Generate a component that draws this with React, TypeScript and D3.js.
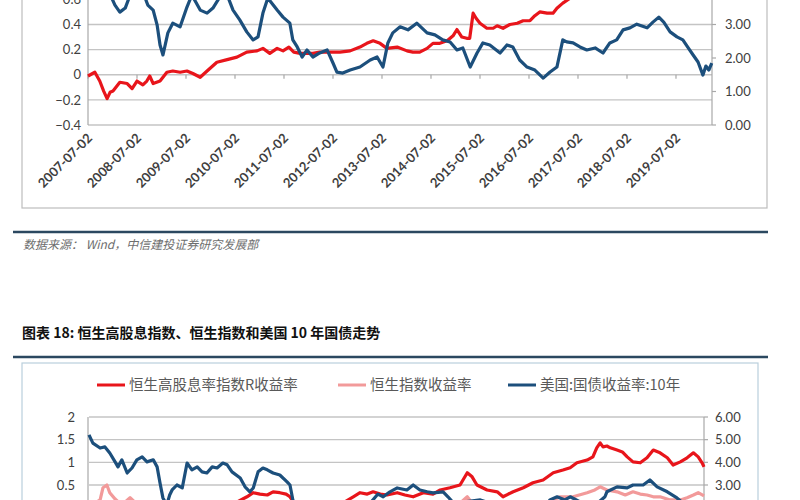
import * as d3 from "d3";

// ---- data (x = decimal year, y = value) ----
const DATE_LABELS = [
  "2007-07-02", "2008-07-02", "2009-07-02", "2010-07-02", "2011-07-02", "2012-07-02", "2013-07-02",
  "2014-07-02", "2015-07-02", "2016-07-02", "2017-07-02", "2018-07-02", "2019-07-02",
];
const TOP_LEFT_TICKS = [-0.4, -0.2, 0, 0.2, 0.4, 0.6, 0.8, 1.0, 1.2];
const TOP_RIGHT_TICKS = [0, 1, 2, 3, 4, 5, 6];
const BOT_LEFT_TICKS = [-1, -0.5, 0, 0.5, 1, 1.5, 2];
const BOT_RIGHT_TICKS = [0, 1, 2, 3, 4, 5, 6];

// top chart, red series (left axis)
const TOP_RED: [number, number][] = [
  [2007.5, -0.01], [2007.64, 0.02], [2007.74, -0.05], [2007.82, -0.13], [2007.89, -0.19], [2007.95, -0.14],
  [2008.01, -0.13], [2008.15, -0.06], [2008.3, -0.07], [2008.4, -0.11], [2008.5, -0.05], [2008.62, -0.08],
  [2008.7, -0.05], [2008.76, -0.01], [2008.83, -0.07], [2008.97, -0.05], [2009.11, 0.02], [2009.23, 0.03],
  [2009.38, 0.02], [2009.52, 0.03], [2009.64, 0.01], [2009.79, -0.02], [2009.93, 0.03], [2010.13, 0.1],
  [2010.34, 0.12], [2010.54, 0.14], [2010.74, 0.18], [2010.95, 0.19], [2011.07, 0.21], [2011.21, 0.17],
  [2011.36, 0.21], [2011.48, 0.19], [2011.6, 0.22], [2011.7, 0.18], [2011.83, 0.17], [2011.97, 0.17],
  [2012.09, 0.17], [2012.23, 0.18], [2012.44, 0.18], [2012.64, 0.18], [2012.85, 0.19], [2013.05, 0.22],
  [2013.19, 0.25], [2013.32, 0.27], [2013.46, 0.25], [2013.6, 0.21], [2013.81, 0.22], [2014.01, 0.19],
  [2014.13, 0.18], [2014.27, 0.18], [2014.42, 0.21], [2014.54, 0.25], [2014.68, 0.25], [2014.83, 0.27],
  [2014.95, 0.31], [2015.03, 0.36], [2015.13, 0.3], [2015.23, 0.29], [2015.29, 0.29], [2015.36, 0.49],
  [2015.42, 0.45], [2015.5, 0.41], [2015.64, 0.37], [2015.77, 0.37], [2015.85, 0.39], [2015.97, 0.37],
  [2016.11, 0.4], [2016.26, 0.41], [2016.38, 0.43], [2016.52, 0.43], [2016.62, 0.47], [2016.72, 0.5],
  [2016.87, 0.49], [2016.99, 0.49], [2017.07, 0.53], [2017.19, 0.57], [2017.34, 0.61], [2017.54, 0.68],
  [2017.75, 0.75], [2017.95, 0.8], [2018.15, 0.85], [2018.36, 0.9], [2018.56, 0.88], [2018.77, 0.8],
  [2018.97, 0.78], [2019.17, 0.85], [2019.38, 0.82], [2019.58, 0.86], [2019.79, 0.84], [2019.99, 0.8],
  [2020.23, 0.82],
];

// top chart, blue series (right axis)
const TOP_BLUE: [number, number][] = [
  [2007.5, 5.0], [2007.64, 4.7], [2007.74, 4.5], [2007.87, 4.1], [2007.95, 3.9], [2008.05, 3.58],
  [2008.15, 3.37], [2008.26, 3.49], [2008.36, 3.88], [2008.52, 4.1], [2008.66, 3.82], [2008.72, 3.58],
  [2008.83, 3.43], [2008.91, 2.99], [2008.97, 2.39], [2009.03, 2.09], [2009.13, 2.75], [2009.23, 3.04],
  [2009.38, 2.93], [2009.52, 3.52], [2009.62, 3.88], [2009.79, 3.43], [2009.93, 3.34], [2010.05, 3.49],
  [2010.19, 3.82], [2010.34, 3.88], [2010.46, 3.43], [2010.6, 3.13], [2010.74, 2.78], [2010.87, 2.54],
  [2010.97, 2.63], [2011.07, 3.34], [2011.17, 3.79], [2011.28, 3.58], [2011.36, 3.43], [2011.48, 3.22],
  [2011.62, 3.04], [2011.68, 2.54], [2011.77, 2.33], [2011.87, 2.03], [2011.97, 2.24], [2012.09, 2.03],
  [2012.23, 2.15], [2012.38, 2.24], [2012.5, 1.85], [2012.58, 1.58], [2012.7, 1.55], [2012.85, 1.64],
  [2013.05, 1.73], [2013.26, 1.94], [2013.4, 2.03], [2013.52, 1.73], [2013.62, 2.45], [2013.72, 2.75],
  [2013.87, 2.93], [2014.03, 2.84], [2014.21, 3.04], [2014.42, 2.75], [2014.58, 2.69], [2014.74, 2.54],
  [2014.89, 2.48], [2015.03, 2.24], [2015.15, 2.3], [2015.3, 1.73], [2015.44, 2.15], [2015.56, 2.45],
  [2015.7, 2.39], [2015.91, 2.15], [2016.05, 2.39], [2016.17, 2.33], [2016.31, 1.94], [2016.46, 1.73],
  [2016.62, 1.64], [2016.79, 1.4], [2016.93, 1.58], [2017.07, 1.73], [2017.19, 2.54], [2017.27, 2.48],
  [2017.4, 2.45], [2017.54, 2.33], [2017.68, 2.24], [2017.85, 2.3], [2018.01, 2.15], [2018.15, 2.45],
  [2018.29, 2.54], [2018.42, 2.84], [2018.56, 2.9], [2018.7, 3.01], [2018.91, 2.9], [2019.03, 3.07],
  [2019.15, 3.22], [2019.25, 3.07], [2019.38, 2.78], [2019.52, 2.63], [2019.64, 2.54], [2019.75, 2.3],
  [2019.85, 2.09], [2019.95, 1.88], [2020.05, 1.49], [2020.11, 1.76], [2020.17, 1.64], [2020.23, 1.85],
];

// bottom chart: 恒生高股息率指数R收益率 (left axis)
const HS_HIGH_DIV: [number, number][] = [
  [2007.5, 0.0], [2007.73, 0.1], [2007.93, 0.05], [2008.35, -0.1], [2008.76, -0.2], [2009.07, -0.3],
  [2009.38, -0.1], [2009.8, 0.0], [2010.21, 0.05], [2010.52, 0.1], [2010.77, 0.24], [2010.9, 0.33],
  [2011.04, 0.3], [2011.19, 0.28], [2011.31, 0.35], [2011.45, 0.33], [2011.58, 0.3], [2011.66, 0.24],
  [2011.77, 0.06], [2011.97, -0.05], [2012.28, 0.0], [2012.59, 0.06], [2012.8, 0.13], [2012.97, 0.24],
  [2013.11, 0.33], [2013.26, 0.3], [2013.38, 0.35], [2013.53, 0.3], [2013.67, 0.28], [2013.88, 0.33],
  [2014.04, 0.28], [2014.21, 0.24], [2014.42, 0.33], [2014.62, 0.3], [2014.77, 0.39], [2014.97, 0.44],
  [2015.18, 0.5], [2015.33, 0.77], [2015.43, 0.68], [2015.53, 0.5], [2015.74, 0.39], [2015.95, 0.35],
  [2016.07, 0.24], [2016.18, 0.3], [2016.28, 0.35], [2016.49, 0.44], [2016.69, 0.55], [2016.9, 0.61],
  [2017.11, 0.77], [2017.31, 0.83], [2017.46, 0.88], [2017.6, 0.99], [2017.81, 1.05], [2017.93, 1.12],
  [2018.01, 1.32], [2018.08, 1.43], [2018.14, 1.34], [2018.22, 1.36], [2018.29, 1.32], [2018.43, 1.27],
  [2018.54, 1.23], [2018.64, 1.12], [2018.76, 1.01], [2018.91, 0.99], [2019.05, 1.1], [2019.18, 1.27],
  [2019.32, 1.21], [2019.47, 1.1], [2019.59, 0.94], [2019.74, 1.01], [2019.88, 1.1], [2020.01, 1.21],
  [2020.11, 1.12], [2020.19, 0.99], [2020.23, 0.9],
];

// bottom chart: 恒生指数收益率 (left axis)
const HSI: [number, number][] = [
  [2007.5, 0.0], [2007.62, 0.1], [2007.73, 0.17], [2007.79, 0.44], [2007.87, 0.5], [2007.93, 0.33],
  [2008.04, 0.19], [2008.18, 0.06], [2008.35, 0.22], [2008.51, 0.06], [2008.76, -0.3], [2009.07, -0.7],
  [2009.28, -0.5], [2009.59, -0.15], [2010.0, -0.05], [2010.63, -0.05], [2011.04, 0.04], [2011.87, -0.5],
  [2012.49, -0.2], [2013.11, -0.05], [2013.94, 0.06], [2014.77, 0.06], [2015.18, 0.1], [2015.33, 0.24],
  [2015.43, 0.1], [2015.8, -0.2], [2016.21, -0.2], [2016.63, -0.05], [2017.11, 0.17], [2017.25, 0.24],
  [2017.52, 0.24], [2017.81, 0.33], [2017.97, 0.39], [2018.08, 0.46], [2018.22, 0.39], [2018.43, 0.35],
  [2018.6, 0.28], [2018.76, 0.35], [2018.91, 0.3], [2019.05, 0.28], [2019.18, 0.24], [2019.32, 0.24],
  [2019.53, 0.17], [2019.74, 0.17], [2019.88, 0.22], [2020.01, 0.28], [2020.11, 0.33], [2020.23, 0.26],
];

// bottom chart: 美国:国债收益率:10年 (right axis)
const UST10Y: [number, number][] = [
  [2007.5, 5.21], [2007.58, 4.85], [2007.73, 4.63], [2007.83, 4.68], [2007.93, 4.41], [2008.04, 4.02],
  [2008.1, 3.8], [2008.18, 4.11], [2008.29, 3.53], [2008.39, 3.75], [2008.49, 4.11], [2008.6, 4.24],
  [2008.7, 4.02], [2008.83, 4.11], [2008.91, 3.8], [2008.97, 3.09], [2009.03, 2.43], [2009.11, 2.12],
  [2009.17, 2.56], [2009.22, 2.78], [2009.32, 3.0], [2009.43, 2.87], [2009.53, 3.97], [2009.63, 3.67],
  [2009.74, 3.8], [2009.84, 3.58], [2009.94, 3.53], [2010.05, 3.8], [2010.15, 3.75], [2010.27, 3.97],
  [2010.36, 3.89], [2010.46, 3.58], [2010.63, 3.31], [2010.73, 2.92], [2010.83, 2.7], [2010.9, 2.87],
  [2011.0, 3.58], [2011.1, 3.75], [2011.19, 3.67], [2011.31, 3.53], [2011.45, 3.44], [2011.6, 3.14],
  [2011.66, 3.0], [2011.72, 2.34], [2011.83, 1.9], [2012.08, 1.7], [2012.39, 1.8], [2012.7, 1.5],
  [2013.01, 1.7], [2013.28, 2.1], [2013.48, 2.6], [2013.59, 2.48], [2013.73, 2.7], [2013.88, 2.87],
  [2014.08, 2.78], [2014.21, 3.0], [2014.35, 2.78], [2014.5, 2.7], [2014.62, 2.65], [2014.83, 2.7],
  [2014.93, 2.48], [2015.08, 2.12], [2015.29, 2.26], [2015.6, 2.34], [2015.91, 2.12], [2016.22, 1.9],
  [2016.53, 1.7], [2016.84, 1.8], [2017.04, 2.34], [2017.19, 2.48], [2017.35, 2.34], [2017.46, 2.48],
  [2017.66, 2.26], [2017.98, 2.12], [2018.18, 2.48], [2018.22, 2.7], [2018.43, 2.92], [2018.64, 2.87],
  [2018.76, 3.0], [2018.97, 3.0], [2019.11, 3.22], [2019.26, 2.92], [2019.47, 2.7], [2019.67, 2.43],
  [2019.84, 2.12], [2020.05, 1.8], [2020.23, 1.9],
];

const LEGEND = [
  { name: "恒生高股息率指数R收益率", color: "#e8151b" },
  { name: "恒生指数收益率", color: "#f29a9a" },
  { name: "美国:国债收益率:10年", color: "#1c4f7c" },
];

const RED = "#e8151b";
const PINK = "#f29a9a";
const BLUE = "#1c4f7c";
const GRID = "#c4c4c4";
const AXIS = "#a8a8a8";
const TICK_TEXT = "#404040";
const NUM_FONT = "Lato, 'Open Sans', sans-serif";
const CJK_FONT = "'Noto Sans CJK SC', sans-serif";
const STROKE = 3.2;

const labelYear = (s: string) => +s.slice(0, 4) + 0.5;
// only write tick labels that can show up inside the 500px frame
const inFrame = (y: number) => y > -8 && y < 496;

function TopChart() {
  const x = d3.scaleLinear().domain([2007.5, 2020.235]).range([88, 712]);
  const yL = d3.scaleLinear().domain([-0.4, 1.2]).range([125, -76]);
  const yR = d3.scaleLinear().domain([0, 6]).range([125, -76]);
  const lineL = d3.line<[number, number]>().x((d) => x(d[0])).y((d) => yL(d[1]));
  const lineR = d3.line<[number, number]>().x((d) => x(d[0])).y((d) => yR(d[1]));
  const [x0, x1] = x.range();

  return (
    <g>
      <rect x={22} y={-120} width={745} height={328} fill="#fff" stroke="#bdbdbd" strokeWidth={1.2} />
      {TOP_LEFT_TICKS.map((t) => (
        <g key={t}>
          <line x1={x0} x2={x1} y1={yL(t)} y2={yL(t)} stroke={GRID} strokeWidth={1.3} />
          {inFrame(yL(t)) && (
            <text x={81} y={yL(t)} dy="0.36em" textAnchor="end" fontSize={13} fill={TICK_TEXT} fontFamily={NUM_FONT}>
              {t === 0 ? "0" : d3.format(".1f")(t)}
            </text>
          )}
        </g>
      ))}
      <line x1={x0} x2={x0} y1={-80} y2={125} stroke={AXIS} strokeWidth={1.2} />
      <line x1={x1} x2={x1} y1={-80} y2={125} stroke={AXIS} strokeWidth={1.2} />
      {TOP_RIGHT_TICKS.map((t) => (
        <g key={t}>
          <line x1={x1} x2={x1 + 4} y1={yR(t)} y2={yR(t)} stroke={AXIS} strokeWidth={1.2} />
          {inFrame(yR(t)) && (
            <text x={725} y={yR(t)} dy="0.36em" fontSize={13} fill={TICK_TEXT} fontFamily={NUM_FONT}>
              {d3.format(".2f")(t)}
            </text>
          )}
        </g>
      ))}
      {DATE_LABELS.map((s) => (
        <line key={s} x1={x(labelYear(s))} x2={x(labelYear(s))} y1={yL(0)} y2={yL(0) + 4} stroke={AXIS} strokeWidth={1.2} />
      ))}
      {DATE_LABELS.map((s) => (
        <text
          key={s}
          transform={`translate(${x(labelYear(s)) + 5},${139}) rotate(-45)`}
          textAnchor="end"
          fontSize={13}
          fontWeight="bold"
          fill={TICK_TEXT}
          fontFamily={NUM_FONT}
        >
          {s}
        </text>
      ))}
      <path d={lineL(TOP_RED) ?? ""} fill="none" stroke={RED} strokeWidth={STROKE} strokeLinejoin="round" />
      <path d={lineR(TOP_BLUE) ?? ""} fill="none" stroke={BLUE} strokeWidth={STROKE} strokeLinejoin="round" />
    </g>
  );
}

function BottomChart() {
  const x = d3.scaleLinear().domain([2007.5, 2020.23]).range([89, 704]);
  const yL = d3.scaleLinear().domain([-1, 2]).range([553, 417]);
  const yR = d3.scaleLinear().domain([0, 6]).range([553, 417]);
  const lineL = d3.line<[number, number]>().x((d) => x(d[0])).y((d) => yL(d[1]));
  const lineR = d3.line<[number, number]>().x((d) => x(d[0])).y((d) => yR(d[1]));
  const [x0, x1] = x.range();
  const legendX = [97, 338, 508];

  return (
    <g>
      <rect x={22} y={363} width={736} height={260} fill="#fff" stroke="#b9cfdc" strokeWidth={1.2} />
      {LEGEND.map((l, i) => (
        <g key={l.name}>
          <line x1={legendX[i]} x2={legendX[i] + 28} y1={385} y2={385} stroke={l.color} strokeWidth={3} />
          <text x={legendX[i] + 32} y={385} dy="0.36em" fontSize={14.5} fill="#595959" fontFamily={CJK_FONT}>
            {l.name}
          </text>
        </g>
      ))}
      {BOT_LEFT_TICKS.map((t) => (
        <g key={t}>
          <line x1={x0} x2={x1} y1={yL(t)} y2={yL(t)} stroke={GRID} strokeWidth={1.3} />
          {inFrame(yL(t)) && (
            <text x={75} y={yL(t)} dy="0.36em" textAnchor="end" fontSize={13} fill={TICK_TEXT} fontFamily={NUM_FONT}>
              {d3.format("~g")(t)}
            </text>
          )}
        </g>
      ))}
      <line x1={x0 - 1} x2={x0 - 1} y1={417} y2={560} stroke={AXIS} strokeWidth={1.2} />
      <line x1={x1} x2={x1} y1={417} y2={560} stroke={AXIS} strokeWidth={1.2} />
      {BOT_RIGHT_TICKS.map((t) => (
        <g key={t}>
          <line x1={x1} x2={x1 + 4} y1={yR(t)} y2={yR(t)} stroke={AXIS} strokeWidth={1.2} />
          {inFrame(yR(t)) && (
            <text x={715} y={yR(t)} dy="0.36em" fontSize={13} fill={TICK_TEXT} fontFamily={NUM_FONT}>
              {d3.format(".2f")(t)}
            </text>
          )}
        </g>
      ))}
      <path d={lineL(HS_HIGH_DIV) ?? ""} fill="none" stroke={RED} strokeWidth={STROKE} strokeLinejoin="round" />
      <path d={lineL(HSI) ?? ""} fill="none" stroke={PINK} strokeWidth={STROKE} strokeLinejoin="round" />
      <path d={lineR(UST10Y) ?? ""} fill="none" stroke={BLUE} strokeWidth={STROKE} strokeLinejoin="round" />
    </g>
  );
}

export default function App() {
  return (
    <svg width={800} height={500} style={{ position: "absolute", left: 0, top: 0, background: "#fff" }}>
      <rect width={800} height={500} fill="#fff" />
      <TopChart />
      <line x1={13} x2={768} y1={232} y2={232} stroke="#2b4860" strokeWidth={2.5} />
      <text x={23} y={249} fontSize={12} fontStyle="italic" fill="#6e6e6e" fontFamily={CJK_FONT}>
        数据来源： Wind，中信建投证券研究发展部
      </text>
      <text x={22} y={338} fontSize={14} fontWeight="bold" fill="#111" fontFamily={CJK_FONT}>
        图表 18: 恒生高股息指数、恒生指数和美国 10 年国债走势
      </text>
      <line x1={13} x2={768} y1={357} y2={357} stroke="#2b4860" strokeWidth={2.5} />
      <BottomChart />
    </svg>
  );
}
